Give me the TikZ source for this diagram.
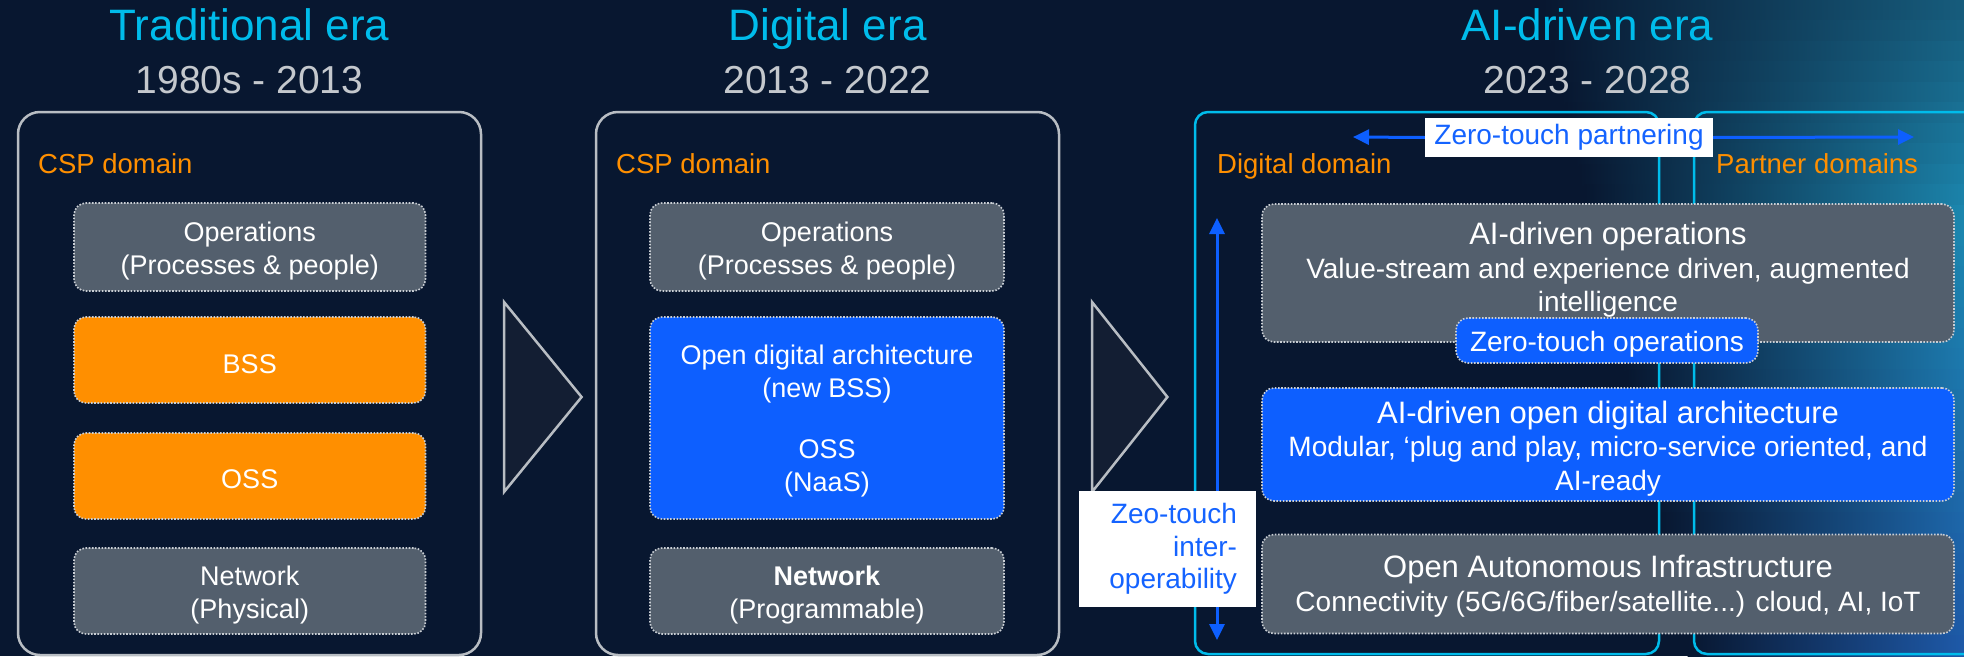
\documentclass[tikz,border=0pt]{standalone}
\usepackage{fontspec}
\setmainfont{Liberation Sans}
\usetikzlibrary{arrows.meta}
\definecolor{bgc}{HTML}{081730}
\definecolor{framec}{HTML}{B8BDC3}
\definecolor{cyanc}{HTML}{00BCEB}
\definecolor{grayfill}{HTML}{535F6D}
\definecolor{orangec}{HTML}{FF8F00}
\definecolor{bluec}{HTML}{0D5FFF}
\definecolor{labelblue}{HTML}{1463FF}
\definecolor{yearc}{HTML}{C4C8CD}
\definecolor{trifill}{HTML}{131E33}
\definecolor{dotc}{HTML}{C9CED4}
\definecolor{tealc}{HTML}{1C88B0}
\definecolor{tealtop}{HTML}{165A7A}
\definecolor{bluebot}{HTML}{1E58A8}
\tikzset{
  eratitle/.style={text=cyanc, font=\fontsize{44}{50}\selectfont, anchor=base, inner sep=0pt},
  erayears/.style={text=yearc, font=\fontsize{39}{44}\selectfont, anchor=base, inner sep=0pt},
  domainlabel/.style={text=orangec, font=\fontsize{27.5}{33}\selectfont, anchor=base west, inner sep=0pt},
  outerbox/.style={draw=framec, line width=2.5pt, rounded corners=22pt, inner sep=0pt},
  aibox/.style={draw=cyanc, line width=2.5pt, rounded corners=13pt},
  layer/.style={draw=dotc, line width=1.6pt, dash pattern=on 1.6pt off 1.6pt, rounded corners=12pt, inner sep=0pt},
  graylayer/.style={layer, fill=grayfill},
  orangelayer/.style={layer, fill=orangec},
  bluelayer/.style={layer, fill=bluec},
  boxtext/.style={text=white, align=center, inner sep=0pt, font=\fontsize{27}{33.5}\selectfont},
  aitext/.style={text=white, align=center, inner sep=0pt, font=\fontsize{28}{33.5}\selectfont},
  chevron/.style={fill=trifill, draw=framec, line width=2.5pt, line join=miter},
  flowarrow/.style={draw=bluec, line width=3pt, -{Triangle[length=16pt,width=15pt]}},
  biarrow/.style={draw=bluec, line width=3pt, {Triangle[length=16pt,width=15pt]}-{Triangle[length=16pt,width=15pt]}},
  whitelabel/.style={fill=white, text=labelblue, inner sep=0pt, font=\fontsize{28}{32.5}\selectfont},
}
\begin{document}
\begin{tikzpicture}[x=1pt,y=-1pt]
\clip (0,0) rectangle (1964,656);
\fill[bgc] (0,0) rectangle (1964,656);
% right-hand glow, built from horizontal bands
\foreach \i in {0,...,31} {
  \pgfmathsetmacro\ym{20.5*\i+10.25}
  \pgfmathsetmacro\xs{1540+(\ym/656)*150}
  \pgfmathtruncatemacro\upper{\ym<220 ? 1 : 0}
  \ifnum\upper=1
    \pgfmathtruncatemacro\p{(\ym/220)*100}
    \colorlet{bandc}{tealc!\p!tealtop}
  \else
    \pgfmathtruncatemacro\p{((\ym-220)/436)*100}
    \colorlet{bandc}{bluebot!\p!tealc}
  \fi
  \shade[left color=bgc, right color=bandc] (\xs,{20.5*\i}) rectangle (1964,{20.5*\i+21.5});
}

% titles
\node[eratitle] (t1) at (249.5,40) {Traditional era};
\node[erayears] (y1) at (249.5,93) {1980s - 2013};
\node[eratitle] (t2) at (827.5,40) {Digital era};
\node[erayears] (y2) at (827.5,93) {2013 - 2022};
\node[eratitle] (t3) at (1587.5,40) {AI-driven era};
\node[erayears] (y3) at (1587.5,93) {2023 - 2028};

% outer frames
\node[outerbox, minimum width=463pt, minimum height=543pt] (era1) at (249.5,383.5) {};
\node[outerbox, minimum width=463pt, minimum height=543pt] (era2) at (827.5,383.5) {};
\draw[aibox] (1195,112) rectangle (1659,654);
\draw[aibox] (1980,112) -- (1694,112) -- (1694,654) -- (1980,654);

% domain labels
\node[domainlabel] (csp1) at (38,173) {CSP domain};
\node[domainlabel] (csp2) at (616,173) {CSP domain};
\node[domainlabel] (dd) at (1217,173) {Digital domain};
\node[domainlabel] (pd) at (1716,173) {Partner domains};

% chevrons
\draw[chevron] (504,302) -- (581.6,397) -- (504,492) -- cycle;
\draw[chevron] (1092,302) -- (1167.4,397) -- (1092,492) -- cycle;

% era 1
\node[graylayer, minimum width=351.5pt, minimum height=88pt] (ops1) at (249.75,247) {};
\node[boxtext] (ops1t) at ([yshift=-4pt]ops1.center) {Operations\\(Processes \& people)};
\node[orangelayer, minimum width=351.5pt, minimum height=86pt] (bss1) at (249.75,360) {};
\node[boxtext] (bss1t) at ([yshift=-4pt]bss1.center) {BSS};
\node[orangelayer, minimum width=351.5pt, minimum height=86pt] (oss1) at (249.75,476) {};
\node[boxtext] (oss1t) at ([yshift=-3pt]oss1.center) {OSS};
\node[graylayer, minimum width=351.5pt, minimum height=86pt] (net1) at (249.75,591) {};
\node[boxtext] (net1t) at ([yshift=-4pt]net1.center) {Network\\(Physical)};

% era 2
\node[graylayer, minimum width=354pt, minimum height=88pt] (ops2) at (827,247) {};
\node[boxtext] (ops2t) at ([yshift=-4pt]ops2.center) {Operations\\(Processes \& people)};
\node[bluelayer, minimum width=354pt, minimum height=202pt] (oda2) at (827,418) {};
\node[boxtext] (oda2t) at ([yshift=-3pt]oda2.center) {Open digital architecture\\(new BSS)\\[27pt]OSS\\(NaaS)};
\node[graylayer, minimum width=354pt, minimum height=86pt] (net2) at (827,591) {};
\node[boxtext] (net2t) at ([yshift=-4pt]net2.center) {\textbf{Network}\\(Programmable)};

% era 3
\node[graylayer, minimum width=692pt, minimum height=138pt] (ops3) at (1608,273) {};
\node[aitext] (ops3t) at (1608,270)
  {{\fontsize{31}{34}\selectfont AI-driven operations}\\Value-stream and experience driven, augmented\\intelligence};
\node[bluelayer, minimum width=302pt, minimum height=45pt] (zto) at (1607,340.5) {};
\node[aitext] (ztot) at ([yshift=-4pt]zto.center) {Zero-touch operations};
\node[bluelayer, minimum width=692pt, minimum height=113pt] (oda3) at (1608,444.5) {};
\node[aitext] (oda3t) at ([yshift=-4pt]oda3.center)
  {{\fontsize{31}{34}\selectfont AI-driven open digital architecture}\\Modular, ‘plug and play, micro-service oriented, and\\AI-ready};
\node[graylayer, minimum width=692pt, minimum height=99pt] (oai3) at (1608,584) {};
\node[aitext] (oai3t) at ([yshift=-2pt]oai3.center)
  {{\fontsize{31}{34}\selectfont Open Autonomous Infrastructure}\\Connectivity (5G/6G/fiber/satellite...) cloud, AI, IoT};

% arrows and labels
\coordinate (ptL) at (1353,137);
\coordinate (ptR) at (1914,137);
\coordinate (ioT) at (1217,218);
\coordinate (ioB) at (1217,640);
\node[whitelabel, minimum width=288pt, minimum height=39pt] (zp) at (1569,137.5) {Zero-touch partnering};
\draw[flowarrow] (zp.west) -- (ptL);
\draw[flowarrow] (zp.east) -- (ptR);
\draw[biarrow] (ioT) -- (ioB);
\node[whitelabel, text width=139pt, align=right, minimum height=116pt, inner xsep=19pt] (zi) at (1167.5,549) {Zeo-touch\\inter-\\operability};
\end{tikzpicture}
\end{document}
